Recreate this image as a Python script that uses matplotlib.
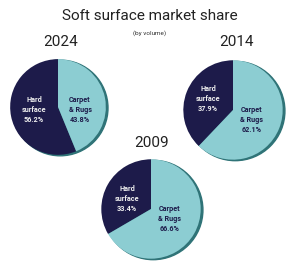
import matplotlib
matplotlib.use("Agg")
import matplotlib.pyplot as plt
from matplotlib.patches import Circle

years = ["2024", "2014", "2009"]
hard = [56.2, 37.9, 33.4]
carpet = [43.8, 62.1, 66.6]
cat_labels = ["Hard\nsurface", "Carpet\n& Rugs"]

NAVY = "#1d1b4a"
TEAL = "#8ccdd2"
SHADOW = "#2f7377"

W, H = 300, 269
fig = plt.figure(figsize=(W / 100, H / 100), dpi=100)
fig.patch.set_facecolor("white")

# pie centres / radii in pixels (from top-left)
layout = {
    "2024": (58, 107, 52, (61, 42)),
    "2014": (233, 110, 54, (236, 42)),
    "2009": (151, 209, 54, (152, 143)),
}
label_pos = {
    "2024": [(-0.5, -0.06), (0.46, -0.06)],
    "2014": [(-0.5, 0.22), (0.38, -0.2)],
    "2009": [(-0.48, 0.2), (0.38, -0.2)],
}

fig.text(150 / W, 1 - 16 / H, "Soft surface market share", ha="center", va="center",
         fontsize=11, color="#222222", family="Roboto")
fig.text(150 / W, 1 - 33 / H, "(by volume)", ha="center", va="center",
         fontsize=4.6, color="#333333", family="Roboto")

for yr, h, c in zip(years, hard, carpet):
    cx, cy, r, (tx, ty) = layout[yr]
    pad = 1.15
    ax = fig.add_axes([(cx - r * pad) / W, 1 - (cy + r * pad) / H, 2 * r * pad / W, 2 * r * pad / H])
    ax.set_xlim(-pad, pad)
    ax.set_ylim(-pad, pad)
    ax.set_aspect("equal")
    ax.axis("off")
    ax.add_patch(Circle((0.045, -0.02), 1.0, color=SHADOW, zorder=0))
    wedges, _ = ax.pie([h, c], colors=[NAVY, TEAL], startangle=90, counterclock=True,
                       radius=1.0, wedgeprops=dict(linewidth=0))
    for w in wedges:
        w.set_zorder(1)
    (hx, hy), (kx, ky) = label_pos[yr]
    ax.text(hx, hy, f"{cat_labels[0]}\n{h:.1f}%", ha="center", va="center", color="#eeeeee",
            fontsize=5.2, fontweight="bold", family="Roboto", linespacing=1.35, zorder=3)
    ax.text(kx, ky, f"{cat_labels[1]}\n{c:.1f}%", ha="center", va="center", color="#1d1b4a",
            fontsize=5.2, fontweight="bold", family="Roboto", linespacing=1.35, zorder=3)
    fig.text(tx / W, 1 - ty / H, yr, ha="center", va="center", fontsize=11,
             color="#222222", family="Roboto")

fig.savefig("out.png", dpi=100)
